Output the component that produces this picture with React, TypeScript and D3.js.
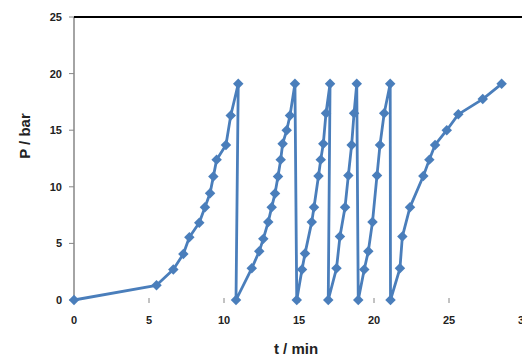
import React, { useEffect, useRef } from 'react';
import * as d3 from 'd3';

// t / min values
const timeMin = [
  0, 5.5, 6.62, 7.29, 7.69, 8.35, 8.73, 9.07, 9.29, 9.51, 10.13, 10.45, 10.95,
  10.8, 11.85, 12.35, 12.62, 12.95, 13.18, 13.4, 13.6, 13.78, 13.91, 14.18, 14.4, 14.73,
  14.85, 15.2, 15.4, 15.85, 16.0, 16.3, 16.45, 16.62, 16.8, 17.07,
  16.95, 17.5, 17.73, 18.07, 18.29, 18.51, 18.67, 18.85,
  18.95, 19.35, 19.62, 19.9, 20.2, 20.4, 20.68, 21.08,
  21.1, 21.73, 21.89, 22.4, 23.29, 23.69, 24.07, 24.85, 25.62, 27.25, 28.51,
];
// P / bar values
const pressureBar = [
  0, 1.3, 2.7, 4.06, 5.54, 6.83, 8.19, 9.43, 10.9, 12.4, 13.7, 16.3, 19.1,
  0, 2.8, 4.3, 5.4, 6.9, 8.2, 9.4, 10.9, 12.4, 13.8, 15.0, 16.3, 19.1,
  0, 2.7, 4.1, 6.9, 8.2, 10.95, 12.4, 13.8, 16.5, 19.1,
  0, 2.8, 5.6, 8.2, 11.0, 13.7, 16.5, 19.1,
  0, 2.7, 4.3, 6.9, 11.0, 13.7, 16.5, 19.1,
  0, 2.8, 5.6, 8.2, 10.95, 12.4, 13.7, 15.0, 16.4, 17.75, 19.1,
];
const xTicks = [0, 5, 10, 15, 20, 25, 30];
const yTicks = [0, 5, 10, 15, 20, 25];

const W = 522;
const H = 356;
const blue = '#4a7ebb';
const font = '"Liberation Sans", Arial, sans-serif';

export default function App() {
  const ref = useRef<SVGSVGElement>(null);

  useEffect(() => {
    const svg = d3.select(ref.current);
    if (!ref.current) return;
    svg.selectAll('*').remove();

    const x = d3.scaleLinear().domain([0, 30]).range([74, 524]);
    const y = d3.scaleLinear().domain([0, 25]).range([300, 17]);

    const data = timeMin.map((t, i) => [t, pressureBar[i]] as [number, number]);

    // x tick marks (no axis line)
    svg
      .append('g')
      .selectAll('line')
      .data(xTicks.slice(1))
      .join('line')
      .attr('x1', (d) => x(d))
      .attr('x2', (d) => x(d))
      .attr('y1', 298)
      .attr('y2', 303)
      .attr('stroke', '#868686')
      .attr('stroke-width', 1);

    svg
      .append('g')
      .selectAll('text')
      .data(xTicks)
      .join('text')
      .attr('x', (d) => x(d))
      .attr('y', 324)
      .attr('text-anchor', 'middle')
      .attr('font-family', font)
      .attr('font-weight', 'bold')
      .attr('font-size', 11)
      .attr('fill', '#222')
      .text((d) => d);

    // y axis
    svg
      .append('line')
      .attr('x1', 74)
      .attr('x2', 74)
      .attr('y1', y(25))
      .attr('y2', y(0))
      .attr('stroke', '#868686')
      .attr('stroke-width', 1.5);

    svg
      .append('g')
      .selectAll('line')
      .data(yTicks)
      .join('line')
      .attr('x1', 69)
      .attr('x2', 74)
      .attr('y1', (d) => y(d))
      .attr('y2', (d) => y(d))
      .attr('stroke', '#868686');

    svg
      .append('g')
      .selectAll('text')
      .data(yTicks)
      .join('text')
      .attr('x', 62)
      .attr('y', (d) => y(d) + 4)
      .attr('text-anchor', 'end')
      .attr('font-family', font)
      .attr('font-weight', 'bold')
      .attr('font-size', 11)
      .attr('fill', '#222')
      .text((d) => d);

    // top border
    svg
      .append('line')
      .attr('x1', 74)
      .attr('x2', W)
      .attr('y1', y(25))
      .attr('y2', y(25))
      .attr('stroke', '#000')
      .attr('stroke-width', 2);

    // series
    const line = d3
      .line<[number, number]>()
      .x((d) => x(d[0]))
      .y((d) => y(d[1]));

    svg
      .append('path')
      .datum(data)
      .attr('d', line)
      .attr('fill', 'none')
      .attr('stroke', blue)
      .attr('stroke-width', 2.8)
      .attr('stroke-linejoin', 'round');

    const diamond = d3.symbol().type(d3.symbolDiamond2).size(70);
    svg
      .append('g')
      .selectAll('path')
      .data(data)
      .join('path')
      .attr('d', diamond as any)
      .attr('transform', (d) => `translate(${x(d[0])},${y(d[1])})`)
      .attr('fill', blue);

    // titles
    svg
      .append('text')
      .attr('transform', `translate(30,136) rotate(-90)`)
      .attr('text-anchor', 'middle')
      .attr('font-family', font)
      .attr('font-weight', 'bold')
      .attr('font-size', 15)
      .attr('fill', '#222')
      .text('P / bar');

    svg
      .append('text')
      .attr('x', 296)
      .attr('y', 354)
      .attr('text-anchor', 'middle')
      .attr('font-family', font)
      .attr('font-weight', 'bold')
      .attr('font-size', 15)
      .attr('fill', '#222')
      .text('t / min');
  }, []);

  return (
    <svg
      ref={ref}
      width={W}
      height={H}
      style={{ position: 'absolute', left: 0, top: 0, background: '#fff' }}
    />
  );
}
